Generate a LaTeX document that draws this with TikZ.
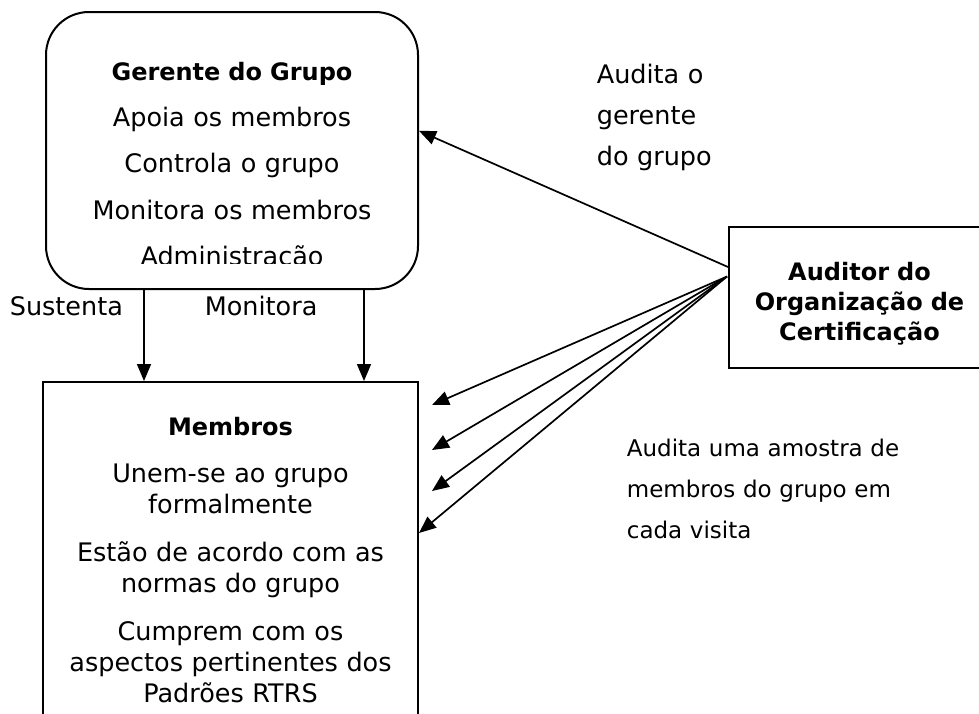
\documentclass[tikz,border=0pt]{standalone}
\usepackage{fontspec}
\setmainfont{DejaVu Sans}
\usetikzlibrary{arrows.meta,calc,math}

\tikzset{
	box/.style={draw,line width=2pt,inner sep=0pt},
	body/.style={font=\fontsize{25.5}{31}\selectfont,anchor=base,align=center,text width=370pt,inner sep=0pt},
	head/.style={body,font=\fontsize{24}{30}\selectfont\bfseries},
	note/.style={font=\fontsize{25.5}{41}\selectfont,anchor=base west,align=left,text width=300pt,inner sep=0pt},
}

\begin{document}
\begin{tikzpicture}[x=1pt,y=-1pt,>={Triangle[length=17pt,width=14pt]},line width=1.7pt]

\tikzmath{
	real	\gx, \mx, \ax;
	\gx = 232;
	\mx = 230.5;
	\ax = 859.5;
}

\useasboundingbox (0,0) rectangle (979,713);
\clip (0,0) rectangle (979,713);

% boxes
\node[box,rounded corners=43pt,minimum width=372pt,minimum height=277pt] (gerente) at ({\gx},150.5) {};
\node[box,minimum width=375pt,minimum height=400pt] (membros) at ({\mx},582) {};
\node[box,minimum width=261pt,minimum height=141pt] (aud) at ({\ax},297.5) {};
\node[head,text width=260pt] (a0txt) at ({\ax},280) {Auditor do\\Organização de\\Certificação};

\begin{scope}
\clip (0,0) rectangle (979,263);
\node[head] (g0) at ({\gx},80) {Gerente do Grupo};
\node[body] (g1) at ({\gx},126) {Apoia os membros};
\node[body] (g2) at ({\gx},172.5) {Controla o grupo};
\node[body] (g3) at ({\gx},219) {Monitora os membros};
\node[body] (g4) at ({\gx},265.5) {Administração};
\end{scope}

\node[head] (m0) at ({\mx},435) {Membros};
\node[body] (m1) at ({\mx},482) {Unem-se ao grupo\\formalmente};
\node[body] (m2) at ({\mx},561) {Estão de acordo com as\\normas do grupo};
\node[body] (m3) at ({\mx},640) {Cumprem com os\\aspectos pertinentes dos\\Padrões RTRS};

\node[note] (l1) at (9,315) {Sustenta};
\node[note] (l2) at (204,315) {Monitora};
\node[note] (l3) at (596,83) {Audita o\\gerente\\do grupo};
\node[note,font=\fontsize{23}{41}\selectfont] (l4) at (626,456)
	{Audita uma amostra de\\membros do grupo em\\cada visita};

% connectors
\coordinate (s1) at (144,0);
\coordinate (s2) at (364,0);
\draw[->] (gerente.south -| s1)--(membros.north -| s1);
\draw[->] (gerente.south -| s2)--(membros.north -| s2);

\coordinate (a0) at ($(aud.west)+(0,-30.5)$);
\coordinate (a1) at ($(aud.west)+(-1,-21)$);
\draw[->] (a0)--(gerente.6);

\foreach \y [count=\i] in {405,450,491}
	\coordinate (t\i) at (432,\y);
\coordinate (t4) at (0,533);
\foreach \i in {1,2,3}
	\draw[->] (a1)--(t\i);
\draw[->] (a1)--(membros.east |- t4);

\end{tikzpicture}
\end{document}
